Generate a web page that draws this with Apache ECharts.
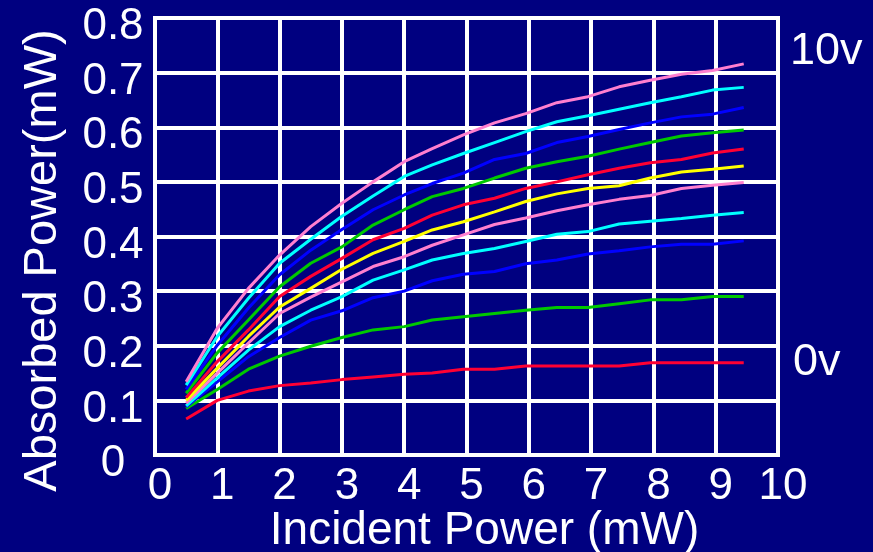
<!DOCTYPE html>
<html>
<head>
<meta charset="utf-8">
<script src="https://cdn.jsdelivr.net/npm/echarts@6/dist/echarts.min.js"></script>
<style>
html,body{margin:0;padding:0;background:#000080;}
#chart{width:873px;height:552px;}
</style>
</head>
<body>
<div id="chart"></div>
<script>
// Incident power (mW) sample positions
var incidentPower = [0.5, 1.0, 1.5, 2.0, 2.5, 3.0, 3.5, 4.0, 4.45, 4.95, 5.45, 5.95, 6.45, 6.95, 7.45, 7.95, 8.45, 8.95, 9.45];

// Absorbed power (mW) per bias voltage
var v0  = [0.066, 0.100, 0.117, 0.127, 0.132, 0.138, 0.143, 0.148, 0.150, 0.157, 0.157, 0.163, 0.163, 0.163, 0.163, 0.169, 0.169, 0.169, 0.169];
var v1  = [0.085, 0.120, 0.157, 0.181, 0.199, 0.215, 0.229, 0.235, 0.247, 0.253, 0.259, 0.265, 0.270, 0.270, 0.277, 0.284, 0.284, 0.290, 0.290];
var v2  = [0.088, 0.134, 0.180, 0.215, 0.247, 0.264, 0.288, 0.300, 0.319, 0.331, 0.336, 0.350, 0.357, 0.368, 0.374, 0.381, 0.386, 0.386, 0.392];
var v3  = [0.090, 0.141, 0.192, 0.235, 0.265, 0.290, 0.320, 0.339, 0.357, 0.369, 0.378, 0.391, 0.404, 0.409, 0.423, 0.428, 0.433, 0.439, 0.444];
var v4  = [0.095, 0.150, 0.205, 0.259, 0.289, 0.317, 0.345, 0.363, 0.384, 0.403, 0.422, 0.434, 0.447, 0.458, 0.468, 0.475, 0.488, 0.494, 0.499];
var v5  = [0.100, 0.159, 0.217, 0.271, 0.305, 0.340, 0.369, 0.391, 0.412, 0.427, 0.445, 0.464, 0.478, 0.488, 0.493, 0.507, 0.518, 0.523, 0.529];
var v6  = [0.105, 0.171, 0.229, 0.290, 0.327, 0.360, 0.394, 0.415, 0.439, 0.458, 0.470, 0.488, 0.500, 0.513, 0.525, 0.535, 0.541, 0.553, 0.560];
var v7  = [0.113, 0.187, 0.247, 0.308, 0.351, 0.381, 0.421, 0.449, 0.473, 0.488, 0.507, 0.525, 0.537, 0.547, 0.560, 0.572, 0.584, 0.590, 0.595];
var v8  = [0.120, 0.201, 0.269, 0.330, 0.375, 0.413, 0.449, 0.476, 0.497, 0.516, 0.541, 0.552, 0.572, 0.583, 0.596, 0.608, 0.619, 0.624, 0.636];
var v9  = [0.128, 0.217, 0.287, 0.351, 0.395, 0.437, 0.474, 0.510, 0.531, 0.552, 0.572, 0.592, 0.610, 0.621, 0.633, 0.645, 0.656, 0.668, 0.673];
var v10 = [0.134, 0.232, 0.305, 0.366, 0.418, 0.461, 0.500, 0.537, 0.561, 0.586, 0.608, 0.625, 0.645, 0.656, 0.674, 0.686, 0.697, 0.704, 0.716];

var seriesNames = ['0v','1v','2v','3v','4v','5v','6v','7v','8v','9v','10v'];
var seriesValues = [v0, v1, v2, v3, v4, v5, v6, v7, v8, v9, v10];
var xTickLabels = ['0','1','2','3','4','5','6','7','8','9','10'];
var yTickLabels = ['0','0.1','0.2','0.3','0.4','0.5','0.6','0.7','0.8'];
var endLabels = ['10v', '0v'];

var colors = ['#ff0033','#00c800','#0000ff','#00ffff','#ff7fcf','#ffff00','#ff0033','#00c800','#0000ff','#00ffff','#ff7fcf'];
var font = "'Liberation Sans', Arial, sans-serif";

var chart = echarts.init(document.getElementById('chart'));
var series = seriesValues.map(function (vals, k) {
  return {
    name: seriesNames[k],
    type: 'line',
    data: incidentPower.map(function (x, i) { return [x, vals[i]]; }),
    showSymbol: false,
    symbol: 'none',
    lineStyle: { color: colors[k], width: 3 },
    itemStyle: { color: colors[k] },
    z: 3
  };
});

chart.setOption({
  backgroundColor: '#000080',
  animation: false,
  grid: { left: 155, right: 95, top: 18, bottom: 97, containLabel: false, outerBoundsMode: 'none', show: true, borderColor: '#ffffff', borderWidth: 4, backgroundColor: 'transparent' },
  xAxis: {
    type: 'value', min: 0, max: 10, interval: 1,
    name: 'Incident Power (mW)', nameLocation: 'middle', nameGap: 53, nameMoveOverlap: false,
    nameTextStyle: { color: '#ffffff', fontSize: 46, fontFamily: font, padding: [0, 0, 0, 36] },
    axisLine: { show: true, lineStyle: { color: '#ffffff', width: 4 } },
    axisTick: { show: false },
    splitLine: { show: true, lineStyle: { color: '#ffffff', width: 4 } },
    axisLabel: {
      color: '#ffffff', fontSize: 44, fontFamily: font, margin: 10, padding: [0, 0, 0, 10],
      formatter: function (v) { return xTickLabels[Math.round(v)]; }
    }
  },
  yAxis: {
    type: 'value', min: 0, max: 0.8, interval: 0.1,
    name: 'Absorbed Power(mW)', nameLocation: 'middle', nameGap: 88, nameRotate: 90,
    nameTextStyle: { color: '#ffffff', fontSize: 47, fontFamily: font, padding: [0, 48, 0, 0] },
    axisLine: { show: true, lineStyle: { color: '#ffffff', width: 4 } },
    axisTick: { show: false },
    splitLine: { show: true, lineStyle: { color: '#ffffff', width: 4 } },
    axisLabel: {
      color: '#ffffff', fontSize: 44, fontFamily: font, margin: 42, align: 'center', verticalAlign: 'top', lineHeight: 18,
      formatter: function (v) { return yTickLabels[Math.round(v * 10)]; }
    }
  },
  graphic: [
    { type: 'text', left: 790, top: 29, style: { text: endLabels[0], fill: '#ffffff', fontSize: 45, fontFamily: font } },
    { type: 'text', left: 793, top: 340, style: { text: endLabels[1], fill: '#ffffff', fontSize: 45, fontFamily: font } }
  ],
  series: series
});
</script>
</body>
</html>
